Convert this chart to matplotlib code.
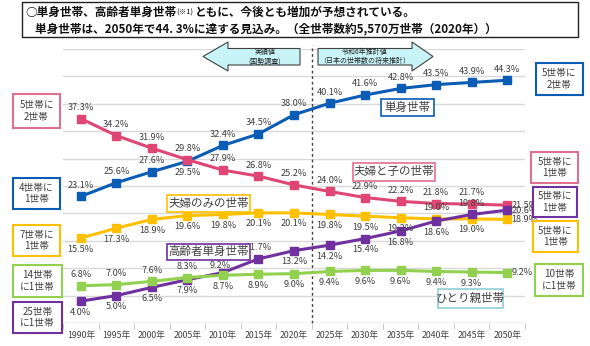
import matplotlib
matplotlib.use('Agg')
import matplotlib.pyplot as plt
from matplotlib.patches import Rectangle, Polygon
import numpy as np

plt.rcParams['font.family'] = ['Noto Sans CJK JP', 'DejaVu Sans']

# ---------------- data ----------------
years = ['1990年', '1995年', '2000年', '2005年', '2010年', '2015年', '2020年',
         '2025年', '2030年', '2035年', '2040年', '2045年', '2050年']
single = [23.1, 25.6, 27.6, 29.5, 32.4, 34.5, 38.0, 40.1, 41.6, 42.8, 43.5, 43.9, 44.3]
couple_child = [37.3, 34.2, 31.9, 29.8, 27.9, 26.8, 25.2, 24.0, 22.9, 22.2, 21.8, 21.7, 21.5]
couple_only = [15.5, 17.3, 18.9, 19.6, 19.8, 20.1, 20.1, 19.8, 19.5, 19.2, 19.0, 19.0, 18.9]
elderly_single = [4.0, 5.0, 6.5, 7.9, 9.2, 11.7, 13.2, 14.2, 15.4, 16.8, 18.6, 19.8, 20.6]
single_parent = [6.8, 7.0, 7.6, 8.3, 8.7, 8.9, 9.0, 9.4, 9.6, 9.6, 9.4, 9.3, 9.2]

# label placement (a=above, A=slightly above, b=below, r=right)
single_pos = ['a', 'a', 'a', 'b', 'a', 'a', 'a', 'a', 'a', 'a', 'a', 'a', 'a']
couple_child_pos = ['a'] * 12 + ['r']
couple_only_pos = ['b'] * 9 + ['b', 'a', 'b', 'r']
elderly_pos = ['b', 'b', 'b', 'b', 'A', 'a', 'b', 'b', 'b', 'b', 'b', 'a', 'r']
parent_pos = ['a', 'a', 'a', 'a', 'b', 'b', 'b', 'b', 'b', 'b', 'b', 'b', 'r']

BLUE = '#0a5cb5'
PINK = '#df4673'
YELLOW = '#ffc000'
PURPLE = '#7030a0'
GREEN = '#92d050'
TXT = '#404040'

W, H = 590, 346
fig = plt.figure(figsize=(W / 100, H / 100), dpi=100)


def fx(x):
    return x / W


def fy(y):
    return 1 - y / H


ax = fig.add_axes([fx(63), fy(323), fx(525) - fx(63), fy(49) - fy(323)])
ax.set_xlim(-0.5, 12.5)
ax.set_ylim(0, 50)
for v in range(5, 51, 5):
    ax.axhline(v, color='#d9d9d9', lw=1, zorder=0)
ax.axhline(0, color='#bfbfbf', lw=1, zorder=0)
for s in ax.spines.values():
    s.set_visible(False)
ax.set_yticks([])
x = np.arange(len(years))
ax.set_xticks(x)
ax.set_xticklabels(years, fontsize=6.3, color=TXT)
ax.tick_params(axis='x', which='major', length=0, pad=6)
ax.set_xticks(np.arange(-0.5, 13, 1), minor=True)
ax.tick_params(axis='x', which='minor', length=4, color='#bfbfbf')

# dashed divider between actual and projected
ax.plot([6.5, 6.5], [0, 50.8], ls=(0, (2, 2)), color='#404040', lw=1, clip_on=False, zorder=1)

series = [
    (single, BLUE, single_pos),
    (couple_child, PINK, couple_child_pos),
    (couple_only, YELLOW, couple_only_pos),
    (elderly_single, PURPLE, elderly_pos),
    (single_parent, GREEN, parent_pos),
]
for vals, col, pos in series:
    ax.plot(x, vals, color=col, lw=2.2, marker='s', markersize=5.5, zorder=3)
for vals, col, pos in series:
    for xi, v, p in zip(x, vals, pos):
        if p == 'a':
            off, ha = (0, 8), 'center'
        elif p == 'A':
            off, ha = (-2, 5), 'center'
        elif p == 'b':
            off, ha = (0, -8), 'center'
        else:
            off, ha = (3, 0), 'left'
        ax.annotate(f'{v:.1f}%', (xi, v), xytext=off, textcoords='offset points',
                    ha=ha, va='center', fontsize=6.6, color=TXT, zorder=4,
                    annotation_clip=False)


def box(x0, y0, x1, y1, ec, text=None, fs=7, lw=1.5, ls=1.15, tc=TXT, weight='normal'):
    fig.add_artist(Rectangle((fx(x0), fy(y1)), fx(x1) - fx(x0), fy(y0) - fy(y1),
                             transform=fig.transFigure, fc='white', ec=ec, lw=lw, zorder=5))
    if text:
        fig.text(fx((x0 + x1) / 2), fy((y0 + y1) / 2), text, ha='center', va='center',
                 fontsize=fs, color=tc, linespacing=ls, zorder=6, fontweight=weight)


# title box
box(22, 2, 578, 37, '#222222', lw=1.0)
r = fig.canvas.get_renderer()
TW = fig.bbox.width
t1 = fig.text(fx(25), fy(12.5), '○単身世帯、高齢者単身世帯', fontsize=8.4, fontweight='bold',
              va='center', ha='left', color='#111111', zorder=7)
bb = t1.get_window_extent(r)
t2 = fig.text(bb.x1 / TW, fy(13), '(※1)', fontsize=5.5, va='center', ha='left',
              color='#111111', zorder=7)
bb2 = t2.get_window_extent(r)
fig.text(bb2.x1 / TW + 0.003, fy(12.5), 'ともに、今後とも増加が予想されている。', fontsize=8.4,
         fontweight='bold', va='center', ha='left', color='#111111', zorder=7)
fig.text(fx(35), fy(28.5), '単身世帯は、2050年で44. 3%に達する見込み。（全世帯数約5,570万世帯（2020年））',
         fontsize=8.4, fontweight='bold', va='center', ha='left', color='#111111', zorder=7)

# arrows
ARROW_FC = '#c9f4f7'
left_arrow = [(203, 56.5), (228, 42), (228, 48.5), (300, 48.5), (300, 65), (228, 65), (228, 71)]
right_arrow = [(318, 48.5), (412, 48.5), (412, 42), (433, 56.5), (412, 71), (412, 65), (318, 65)]
for pts in (left_arrow, right_arrow):
    fig.add_artist(Polygon([(fx(a), fy(b)) for a, b in pts], closed=True,
                           transform=fig.transFigure, fc=ARROW_FC, ec='#404040', lw=0.8, zorder=5))
fig.text(fx(265), fy(56.5), '実績値\n(国勢調査)', ha='center', va='center', fontsize=5.0,
         color='#222222', linespacing=1.25, zorder=6)
fig.text(fx(365), fy(56.5), '令和6年推計値\n（日本の世帯数の将来推計）', ha='center', va='center',
         fontsize=5.0, color='#222222', linespacing=1.25, zorder=6)

# left side ratio boxes
box(13, 94, 60, 128, '#e0708f', '5世帯に\n2世帯')
box(13, 178, 60, 209, BLUE, '4世帯に\n1世帯')
box(13, 225, 60, 256, YELLOW, '7世帯に\n1世帯')
box(13, 265, 62, 297, GREEN, '14世帯\nに1世帯')
box(13, 302, 62, 333, PURPLE, '25世帯\nに1世帯')

# right side ratio boxes
box(536, 63, 583, 95, BLUE, '5世帯に\n2世帯')
box(531, 152, 578, 183, '#e0708f', '5世帯に\n1世帯')
box(533, 187, 577, 217, PURPLE, '5世帯に\n1世帯')
box(533, 221, 578, 252, YELLOW, '5世帯に\n1世帯')
box(535, 264, 583, 296, GREEN, '10世帯\nに1世帯')

# series name boxes
box(381, 99, 434, 116, BLUE, '単身世帯', fs=8.3, lw=1.2)
box(353, 163, 435, 181, '#e0708f', '夫婦と子の世帯', fs=8.3, lw=1.2)
box(167, 195, 250, 212, YELLOW, '夫婦のみの世帯', fs=8.3, lw=1.2)
box(167, 244, 250, 260, PURPLE, '高齢者単身世帯', fs=8.3, lw=1.2)
box(438, 289, 503, 308, '#8fd0d4', 'ひとり親世帯', fs=8.3, lw=1.2)

fig.savefig('out.png', dpi=100)
